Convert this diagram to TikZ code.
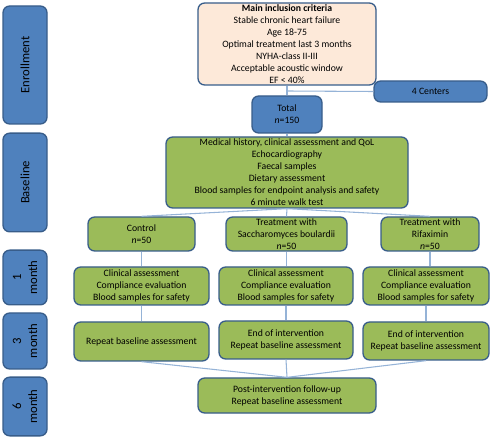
\documentclass[tikz,border=0pt]{standalone}
\usepackage{fontspec}
\setmainfont{Carlito}
\definecolor{barblue}{HTML}{4F81BD}
\definecolor{edgeblue}{HTML}{385D8A}
\definecolor{boxgreen}{HTML}{9BBB59}
\definecolor{boxpeach}{HTML}{FDE9D9}
\definecolor{linkblue}{HTML}{95B3D7}
\begin{document}
\begin{tikzpicture}[x=0.75pt,y=-0.75pt,
    box/.style={draw=edgeblue,line width=1pt,rounded corners=5pt,
      align=center,inner sep=0pt,font=\fontsize{7.3}{9}\selectfont},
    phase/.style={box,fill=barblue,minimum height=33pt,rotate=90,
      font=\fontsize{9.5}{12}\selectfont},
    bluebox/.style={box,fill=barblue},
    greenbox/.style={box,fill=boxgreen},
    peachbox/.style={box,fill=boxpeach}]
  \useasboundingbox (0,0) rectangle (500,438);
  \path
    (25,65) node[phase,minimum width=88.5pt] (enr){Enrollment}
    (25,182.5) node[phase,minimum width=74pt] (bas){Baseline}
    (25,277.5) node[phase,minimum width=41pt] (m1){1\\month}
    (25,341) node[phase,minimum width=42pt] (m3){3\\month}
    (25,406.5) node[phase,minimum width=44pt] (m6){6\\month};
  \path
    (287,44) node[peachbox,minimum width=133.5pt,minimum height=61.5pt] (crit)
      {\textbf{Main inclusion criteria}\\Stable chronic heart failure\\Age 18-75\\
       Optimal treatment last 3 months\\NYHA-class II-III\\
       Acceptable acoustic window\\EF < 40\%}
    (430.5,91.5) node[bluebox,minimum width=84.75pt,minimum height=15.75pt] (centers){4 Centers}
    (287,114.5) node[bluebox,minimum width=52.5pt,minimum height=27.75pt] (total){Total\\\textit{n}=150}
    (287,172.5) node[greenbox,minimum width=181.5pt,minimum height=53.25pt] (base)
      {Medical history, clinical assessment and QoL\\Echocardiography\\Faecal samples\\
       Dietary assessment\\Blood samples for endpoint analysis and safety\\6 minute walk test}
    (141.5,234) node[greenbox,minimum width=80.25pt,minimum height=25.5pt] (ctrl){Control\\\textit{n}=50}
    (286.5,234) node[greenbox,minimum width=90.75pt,minimum height=25.5pt] (sb)
      {Treatment with\\Saccharomyces boulardii\\\textit{n}=50}
    (430,234) node[greenbox,minimum width=73.5pt,minimum height=25.5pt] (rif)
      {Treatment with\\Rifaximin\\\textit{n}=50}
    (141.5,286) node[greenbox,minimum width=101.25pt,minimum height=28.5pt] (c1)
      {Clinical assessment\\Compliance evaluation\\Blood samples for safety}
    (286,286) node[greenbox,minimum width=100.5pt,minimum height=28.5pt] (s1)
      {Clinical assessment\\Compliance evaluation\\Blood samples for safety}
    (426,286) node[greenbox,minimum width=94.5pt,minimum height=28.5pt] (r1)
      {Clinical assessment\\Compliance evaluation\\Blood samples for safety}
    (141.5,341.5) node[greenbox,minimum width=101.25pt,minimum height=29.25pt] (c3)
      {Repeat baseline assessment}
    (286,340) node[greenbox,minimum width=100.5pt,minimum height=28.5pt] (s3)
      {End of intervention\\Repeat baseline assessment}
    (426,341) node[greenbox,minimum width=94.5pt,minimum height=28.5pt] (r3)
      {End of intervention\\Repeat baseline assessment}
    (287,395.5) node[greenbox,minimum width=133.5pt,minimum height=26.25pt] (post)
      {Post-intervention follow-up\\Repeat baseline assessment};
  \coordinate (split) at (287,91);
  \begin{scope}[-,draw=linkblue,line width=0.8pt]
    \draw (crit) to (total);
    \draw (split) to (centers.west);
    \draw (total) to (base);
    \draw (base.south) to (ctrl.north);
    \draw (base.south) to (sb.north);
    \draw (base.south) to (rif.north);
    \draw (ctrl) to (c1);
    \draw (sb.south) to (sb.south |- s1.north);
    \draw (rif.south) to (rif.south |- r1.north);
    \draw (c1) to (c3);
    \draw (s1) to (s3);
    \draw (r1) to (r3);
    \draw (c3.south) to (post.north);
    \draw (s3.south) to (post.north);
    \draw (r3.south) to (post.north);
  \end{scope}
\end{tikzpicture}
\end{document}
